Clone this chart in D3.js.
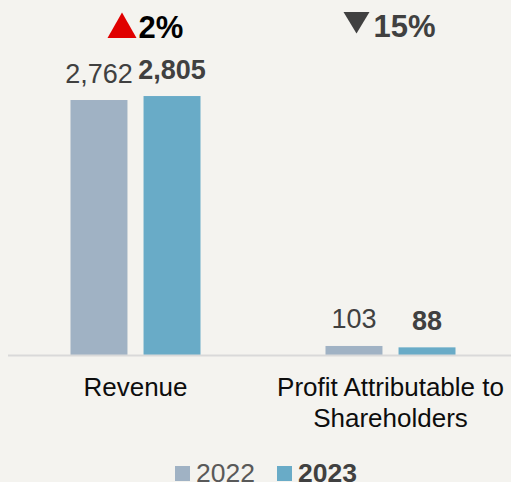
<!DOCTYPE html>
<html lang="en">
<head>
<meta charset="UTF-8">
<title>Revenue and Profit</title>
<script src="https://cdn.jsdelivr.net/npm/d3@7"></script>
<style>
  html, body { margin: 0; padding: 0; background: #f4f3ef; }
  svg { display: block; font-family: "Liberation Sans", Arial, sans-serif; }
</style>
</head>
<body>
<script>
// data
var categories = ["Revenue", "Profit Attributable to Shareholders"];
var categoryLines = [["Revenue"], ["Profit Attributable to", "Shareholders"]];
var years = ["2022", "2023"];
var values2022 = [2762, 103];
var values2023 = [2805, 88];
var changes = ["2%", "15%"];
var directions = ["up", "down"];

var width = 511, height = 482;
var baseY = 355.5;
var colors = {"2022": "#a0b2c4", "2023": "#69abc7"};

var svg = d3.select("body").append("svg")
    .attr("width", width)
    .attr("height", height);

svg.append("rect").attr("width", width).attr("height", height).attr("fill", "#f4f3ef");

// scales
var x0 = d3.scaleBand().domain(categories).range([8, 518]);
var groupW = 130;
var x1 = d3.scaleBand().domain(years).range([0, groupW]).paddingInner(0.22);
var y = d3.scaleLinear().domain([0, 3000]).range([baseY, 78]);

function gx(c) { return x0(c) + (x0.bandwidth() - groupW) / 2; }

var rows = categories.map(function (c, i) {
    return {cat: c, lines: categoryLines[i], vals: [values2022[i], values2023[i]],
            change: changes[i], dir: directions[i]};
});

var groups = svg.selectAll(".grp").data(rows).enter().append("g")
    .attr("class", "grp")
    .attr("transform", function (d) { return "translate(" + gx(d.cat) + ",0)"; });

// bars
groups.selectAll("rect").data(function (d) {
        return years.map(function (yr, j) { return {year: yr, v: d.vals[j]}; });
    }).enter().append("rect")
    .attr("x", function (d) { return x1(d.year); })
    .attr("y", function (d) { return y(d.v); })
    .attr("width", x1.bandwidth())
    .attr("height", function (d) { return baseY - y(d.v); })
    .attr("fill", function (d) { return colors[d.year]; });

// value labels
groups.selectAll(".val").data(function (d) {
        return years.map(function (yr, j) { return {year: yr, v: d.vals[j]}; });
    }).enter().append("text")
    .attr("class", "val")
    .attr("x", function (d) { return x1(d.year) + x1.bandwidth() / 2; })
    .attr("y", function (d) { return y(d.v) - 17.5; })
    .attr("text-anchor", "middle")
    .attr("font-size", 27)
    .attr("font-weight", function (d) { return d.year === "2023" ? "bold" : "normal"; })
    .attr("fill", "#404040")
    .text(function (d) { return d3.format(",")(d.v); });

// baseline
svg.append("line")
    .attr("x1", 8).attr("x2", width)
    .attr("y1", baseY).attr("y2", baseY)
    .attr("stroke", "#d9d9d9").attr("stroke-width", 2);

// category labels
groups.each(function (d) {
    var t = d3.select(this).append("text")
        .attr("text-anchor", "middle")
        .attr("font-size", 26)
        .attr("fill", "#0d0d0d");
    d.lines.forEach(function (ln, k) {
        t.append("tspan")
            .attr("x", groupW / 2)
            .attr("y", 395.5 + k * 31)
            .text(ln);
    });
});

// change markers
groups.each(function (d) {
    var g = d3.select(this);
    var cx = groupW / 2;
    if (d.dir === "up") {
        g.append("path")
            .attr("d", "M" + (cx - 28) + ",38 L" + (cx - 13.5) + ",12.5 L" + (cx + 1) + ",38 Z")
            .attr("fill", "#e00000");
        g.append("text")
            .attr("x", cx + 3).attr("y", 37.5)
            .attr("font-size", 31).attr("font-weight", "bold")
            .attr("fill", "#000")
            .text(d.change);
    } else {
        g.append("path")
            .attr("d", "M" + (cx - 47) + ",12 L" + (cx - 21) + ",12 L" + (cx - 34) + ",33.5 Z")
            .attr("fill", "#404040");
        g.append("text")
            .attr("x", cx - 17).attr("y", 37)
            .attr("font-size", 31).attr("font-weight", "bold")
            .attr("fill", "#404040")
            .text(d.change);
    }
});

// legend
var legendX = [175, 277];
var legend = svg.selectAll(".leg").data(years).enter().append("g")
    .attr("class", "leg")
    .attr("transform", function (d, i) { return "translate(" + legendX[i] + ",0)"; });
legend.append("rect")
    .attr("x", 0).attr("y", 466)
    .attr("width", 15).attr("height", 15)
    .attr("fill", function (d) { return colors[d]; });
legend.append("text")
    .attr("x", 21).attr("y", 482)
    .attr("font-size", 26.5)
    .attr("font-weight", function (d) { return d === "2023" ? "bold" : "normal"; })
    .attr("fill", function (d) { return d === "2023" ? "#404040" : "#595959"; })
    .text(function (d) { return d; });
</script>
</body>
</html>
